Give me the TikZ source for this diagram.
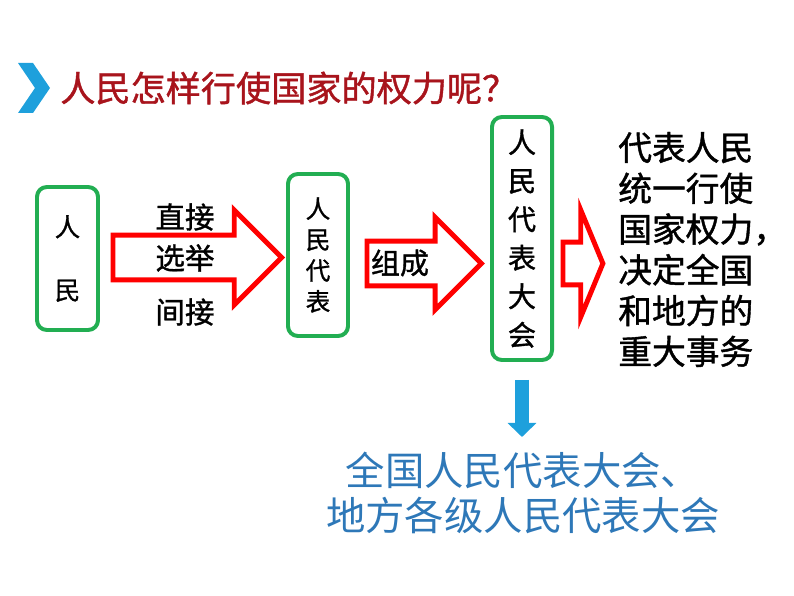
\documentclass[tikz,border=0pt]{standalone}
\usepackage{fontspec}
\setmainfont{Noto Sans CJK SC}
\newfontfamily\heavy{Noto Sans CJK SC}[FakeBold=1.2]
\usepackage{tikz}
\usetikzlibrary{arrows.meta, shapes.arrows, positioning}
\definecolor{boxgreen}{HTML}{22AE52}
\definecolor{titlered}{HTML}{A8141C}
\definecolor{arrowblue}{HTML}{1EA0DC}
\definecolor{textblue}{HTML}{2E78B8}

\begin{document}
\begin{tikzpicture}[
  x=0.025cm, y=-0.025cm,
  every node/.style={inner sep=0pt},
  box/.style={rectangle, rounded corners=7pt, draw=boxgreen,
              line width=2.8pt, fill=white, align=center},
  bigarr/.style={single arrow, draw=red, line width=3.5pt,
                 fill=white, inner xsep=0pt, inner ysep=14.2pt,
                 anchor=tail},
  lbl/.style={font=\heavy\fontsize{21}{25}\selectfont},
  dnarr/.style={draw=arrowblue, line width=10pt,
                -{Triangle[width=20pt, length=10pt]}},
]
\useasboundingbox (0,0) rectangle (794,596);

%% heading
\fill[arrowblue] (18,63) -- (33,63) -- (50,88) -- (33,113)
  -- (18,113) -- (35,88) -- cycle;
\node[anchor=west, text=titlered, font=\heavy\fontsize{25}{29}\selectfont]
  (title) at (60,88) {人民怎样行使国家的权力呢？};

%% boxes
\node[box, minimum width=43.4pt, minimum height=101.7pt,
      font=\heavy\fontsize{18}{45}\selectfont] (people) at (67.5,258.5) {人\\民};
\node[box, minimum width=42.7pt, minimum height=115.2pt,
      font=\heavy\fontsize{17.5}{22}\selectfont] (deputies) at (318,255)
  {人\\民\\代\\表};
\node[box, minimum width=42.7pt, minimum height=172.8pt,
      font=\heavy\fontsize{20}{27.4}\selectfont] (congress) at (522,238.5)
  {人\\民\\代\\表\\大\\会};

%% block arrows
\node[bigarr, minimum height=120pt,
      single arrow head extend=17.8pt] (elect) at (110.5,257.5) {};
\node[bigarr, minimum height=81.4pt,
      single arrow head extend=17pt] (form) at (364.5,263.5) {};
\node[bigarr, minimum height=28.4pt, inner ysep=13.5pt,
      single arrow head extend=22.8pt,
      single arrow tip angle=135] (exercise) at (560.5,263.5) {};

\node[lbl] (direct)   at (185,217) {直接};
\node[lbl] (vote)     at (185,258) {选举};
\node[lbl] (indirect) at (185,312) {间接};
\node[font=\heavy\fontsize{20.6}{25}\selectfont] (compose) at (400,263) {组成};

%% result
\node[anchor=west, align=left, font=\heavy\fontsize{24}{29}\selectfont]
  (power) at (618,249.5)
  {代表人民\\统一行使\\国家权力，\\决定全国\\和地方的\\重大事务};

\node[align=center, text=textblue, font=\fontsize{28}{32}\selectfont]
  (levels) at (523,492.5) {全国人民代表大会、\\地方各级人民代表大会};

\coordinate (dntip) at (522,437);
\draw[dnarr, shorten <=12.8pt] (congress.south) -- (dntip);

\end{tikzpicture}
\end{document}
